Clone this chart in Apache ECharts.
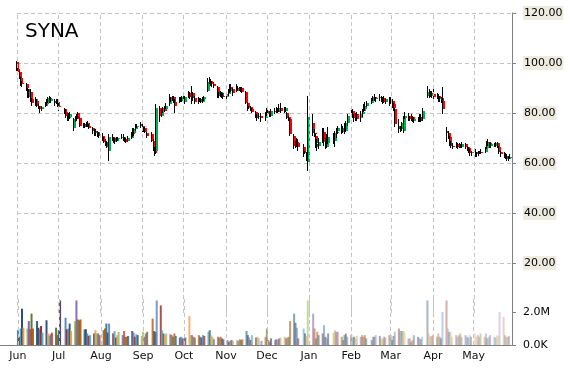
<!DOCTYPE html>
<html><head><meta charset="utf-8">
<script src="https://cdn.jsdelivr.net/npm/echarts@6/dist/echarts.min.js"></script>
<style>html,body{margin:0;padding:0;background:#fff}#c{width:570px;height:370px}</style>
</head><body><div id="c"></div>
<script>
const chartTitle = 'SYNA';
const monthNames = ['Jan','Feb','Mar','Apr','May','Jun','Jul','Aug','Sep','Oct','Nov','Dec'];
const monthStartDates = ['2015-06-01','2015-07-01','2015-08-01','2015-09-01','2015-10-01','2015-11-01','2015-12-01','2016-01-01','2016-02-01','2016-03-01','2016-04-01','2016-05-01'];
const holidays = ['2015-07-03','2015-09-07','2015-11-26','2015-12-25','2016-01-01','2016-01-18','2016-02-15','2016-03-25'];
const priceTicks = [0, 20, 40, 60, 80, 100, 120];
const volumeTickValues = [0, 2];
const volumeTickLabels = ['0.0K', '2.0M'];

// daily candles: [open, close, low, high]
const jun15 = [[100.5,97.5,97,101],[97.5,96.5,95.5,98.5],[96.5,94,93.5,97],[94,92,91,94.5],[92,91.5,90.5,93],[91.5,90,89,92],[89.5,86.5,86,90],[86.5,88.5,86,89.5],[88.5,85,84.5,89.5],[85.5,84,83,86],[84,85.5,83,86.5],[85,83,82.5,85.5],[83,82,81.5,83.5],[82,81.5,80,83],[81.5,82.5,81,83],[83,83.5,82.5,84.5],[83.5,84.5,83,85.5],[84.5,86,84,86.5],[86,85,84,87],[85,85.5,84,86.5],[85,84,83,85.5],[84,84.5,83.5,85.5]];
const jul15 = [[84.5,83,82.5,85.5],[83,82.5,81,84],[81.5,80.5,79.5,82],[80.5,79,78,81.5],[79,77.5,77,80],[78,78.5,77,80],[78.5,79.5,77.5,80.5],[74,77.5,73,78],[77.5,78.5,76.5,79],[78.5,77.5,77,79.5],[80,78,77.5,80.5],[78,75,74.5,78.5],[75.5,75,74,76],[75,74.5,74,76],[75,76,74.5,76.5],[76,75,74.5,77],[75,74,73.5,75.5],[74,73,71.5,74.5],[73,72,71,73.5],[72,72.5,71,73.5],[72.5,71.5,70.5,73],[71.5,71,70,72.5]];
const aug15 = [[71,69.5,69,72],[69.5,68.5,68,70.5],[68.5,67.5,67,69.5],[67.5,66.5,66,69],[65,70.5,61,71.5],[70.5,70,69,71.5],[70,68.5,68,70.5],[68.5,69,67.5,70],[69,69.5,68.5,70.5],[69.5,70,69,70.5],[70,70.5,69.5,71.5],[70.5,69.5,69,71.5],[69.5,69,68.5,70.5],[69,68.5,68,70],[69,70,68.5,71],[70,72,69.5,72.5],[72.5,71.5,70.5,74],[72,73.5,71,74],[73.5,74.5,73,75.5],[74.5,75,74,75.5],[75.5,75,74,76.5]];
const sep15 = [[75,73,72.5,75.5],[73,74,72.5,74.5],[74,72.5,72,74.5],[72,71,70,72.5],[71.5,69,68.5,72.5],[69,66,65,69.5],[66,64,63,66.5],[65,82,63.5,83.5],[82,79,76.5,83],[79,80.5,78.5,81.5],[80.5,82,80,82.5],[82.5,81,80.5,83],[81.5,83,81.5,84],[83.5,86.5,83,87.5],[86,85.5,84.5,86.5],[85.5,86,85,87],[86.5,84.5,84,87],[84.5,83,80,85.5],[84.5,86,84,86.5],[86,85,84.5,86.5],[85,86.5,84.5,87]];
const oct15 = [[86.5,85,84,87.5],[84.5,86.5,83.5,87],[87,88,86,89],[88,86.5,85.5,88.5],[87,88,83.5,91],[88,86,85,88.5],[86,84.5,83.5,87],[84.5,85.5,83.5,86.5],[85.5,85,84.5,86],[85,84.5,84,86],[84.5,85.5,84,86.5],[85.5,86.5,85,87],[89,92.5,88.5,94],[92.5,93,91.5,94.5],[93,92,91,93.5],[92,91.5,90.5,93],[91.5,91,90,92.5],[90.5,88,86,91],[88,87,86,88.5],[87,88.5,86.5,89],[88,87,86,88.5],[87,86.5,85.5,88]];
const nov15 = [[86.5,87.5,85.5,88.5],[87.5,88.5,87,89.5],[89,90.5,88,91.5],[90.5,89.5,88.5,91.5],[89.5,88,87,90],[89,90,88.5,91.5],[90,89.5,89,91],[89.5,90,89,90.5],[90,89,88.5,90.5],[90,88.5,88,90.5],[88.5,84,83.5,89],[84,82,81,84.5],[82,82.5,81.5,83],[82.5,81.5,81,83],[81.5,80.5,80,82],[80.5,79,78,81],[79,78,77,79.5],[78.5,79,77.5,80],[79,78,76.5,80],[78,79.5,77,80.5]];
const dec15 = [[79.5,81,79,82],[81,80,79,82.5],[80,79,78.5,81],[79,81,78.5,81.5],[81,80.5,79.5,82],[80.5,81.5,80,82.5],[81.5,80.5,80,82],[81,82,80.5,83.5],[82,81,80,84],[81.5,81,80,82.5],[81,82,80.5,82.5],[80,78,77.5,80.5],[78.5,77.5,77,79],[77.5,71.5,71,78],[71,67,65.5,71.5],[67,68,66,69],[68.5,67.5,66.5,70],[68,66.5,65,69.5],[66.5,64,62.5,67.5],[64,64.5,63.5,65],[64.5,62,61,64.5],[60.5,78.5,57,87]];
const jan16 = [[76,72,71,79.5],[72,71.5,70.5,73.5],[71,68,66,72],[67.5,66.5,65,69.5],[67,68.5,65.5,70],[68.5,72.5,68,74],[72.5,69,67,74],[69,66.5,65.5,70],[66.5,70,66,71.5],[68,70.5,67.5,74.5],[71,70,67.5,72],[69,72,66.5,73],[72,72.5,70,74],[73,74,71.5,75],[74,72.5,71.5,75.5],[72.5,74,72,75],[74,73,71.5,76],[73,76,72.5,77],[76,79,75,79.5]];
const feb16 = [[79,81,78.5,82.5],[81,79,78,81.5],[79,78,76.5,79.5],[78,79.5,77,80],[79.5,77.5,77,80.5],[78,79.5,76.5,81],[79.5,80.5,78.5,81.5],[81,82.5,80.5,83.5],[81.5,83,81,84.5],[83,84,82.5,85],[84,85.5,83.5,86],[85.5,86.5,85,87],[86.5,85.5,85,87.5],[85.5,86,84.5,86.5],[86,86.5,85,87.5],[86.5,85,84.5,87],[85,86,83.5,86.5],[86,84.5,84,87],[84.5,85.5,83.5,86],[85.5,84,83,86.5]];
const mar16 = [[84,85.5,83.5,86.5],[85,83.5,82,85.5],[83.5,82,81,84],[81.5,75.5,74.5,82],[75,73.5,72,77.5],[73.5,74,72.5,75],[74,76,73,76.5],[73,78,72,79],[78,79,77.5,80.5],[79,78,77,80],[78,77.5,77,79],[77.5,78.5,77,79.5],[78.5,77,76.5,79],[77,77.5,76,78.5],[77.5,77,76.5,78.5],[77,78.5,76.5,79.5],[78.5,77,76.5,79.5],[77.5,81,77,82],[87,88.5,86,91],[88.5,87,86,89.5],[87,88,86.5,89],[88,87.5,86,89]];
const apr16 = [[87.5,86.5,85.5,89.5],[86.5,87,85.5,88],[87,85.5,84.5,87.5],[85.5,86,84.5,87],[86,85,84,86.5],[85,81.5,79.5,90.5],[73,72,68.5,74.5],[72,70.5,69.5,73],[70.5,68,67,71],[68,67,66,69],[67,66.5,65.5,68],[66.5,67.5,66,68.5],[67.5,66.5,65.5,68],[66.5,67,66,68],[67,66.5,66,67.5],[66.5,67.5,66,68.5],[67.5,66.5,65.5,68],[66.5,66,65,67],[66,65,64,66.5],[65,64,63,65.5],[64,64.5,63,65]];
const may16 = [[64.5,64,62.5,65.5],[64,63.5,62.5,64.5],[63.5,64,63,65],[64,64.5,63.5,65],[64.5,64,63.5,65.5],[64.5,66,64,66.5],[66,68.5,65.5,69],[68.5,68,67,69.5],[68,67,66,68.5],[67,67.5,66,68.5],[67.5,67,66.5,68],[67,68,66.5,68.5],[68,66.5,66,68.5],[66.5,64.5,63.5,67],[64.5,63.5,62.5,65],[63.5,63,62,64.5],[63,62.5,61.5,64],[62.5,61.5,61,63.5],[61.5,62,61,63],[62,62.5,61.5,63.5]];

// daily volume in millions of shares
const volJun15 = [0.9,0.5,1.0,2.2,1.05,1.0,1.45,0.95,1.9,1.0,1.45,1.05,0.95,1.15,0.75,1.5,0.7,0.55,0.65,0.75,1.05,0.6];
const volJul15 = [0.9,2.7,1.65,0.95,1.0,1.3,0.85,1.45,2.7,1.55,1.5,1.55,0.95,0.95,0.7,0.55,0.6,0.7,0.9,0.7,0.7,0.6];
const volAug15 = [0.9,1.0,1.3,0.75,1.3,0.7,0.85,0.45,0.6,0.8,0.6,0.85,0.5,0.5,0.55,0.85,0.75,0.5,0.65,0.6,0.55];
const volSep15 = [0.8,0.5,0.7,0.8,1.6,0.85,0.8,2.7,2.4,0.9,0.7,0.6,0.7,0.65,0.6,0.5,0.7,0.55,0.45,0.5,0.4];
const volOct15 = [0.4,0.45,1.75,0.6,0.6,0.5,0.45,0.6,0.5,0.45,0.6,0.55,0.8,0.9,0.6,0.5,0.35,0.5,0.45,0.5,0.4,0.35];
const volNov15 = [0.3,0.2,0.25,0.3,0.25,0.3,0.25,0.35,0.3,0.35,0.85,0.6,0.45,0.3,0.6,0.45,0.5,0.4,0.25,0.5];
const volDec15 = [1.0,0.3,0.2,0.4,0.3,0.35,0.3,0.4,0.45,0.5,0.4,0.45,0.5,1.45,1.9,1.35,1.05,0.4,1.0,0.7,0.55,2.7];
const volJan16 = [1.9,1.0,0.4,0.8,0.6,0.7,1.2,0.5,0.4,0.7,0.75,0.9,0.8,0.8,0.5,0.3,0.6,0.7,0.5];
const volFeb16 = [0.6,0.45,0.5,0.4,0.55,0.5,0.6,0.5,0.6,0.4,0.3,0.5,0.5,0.6,0.55,0.4,0.35,0.5,0.45,0.6];
const volMar16 = [0.6,0.3,0.55,0.8,1.0,0.85,0.85,0.85,0.8,0.4,0.4,0.2,0.3,0.6,0.5,0.45,0.35,0.5,2.7,0.7,0.5,0.55];
const volApr16 = [0.6,0.5,0.7,0.5,0.4,2.0,2.7,1.0,0.8,0.8,0.5,0.6,0.5,0.6,0.7,0.5,0.6,0.5,0.45,0.6,0.5];
const volMay16 = [0.7,0.5,0.6,0.5,0.7,0.5,0.7,0.4,0.5,0.6,0.5,0.45,0.6,0.55,2.0,1.7,0.6,0.5,0.5,0.55];

const candles = [].concat(jun15,jul15,aug15,sep15,oct15,nov15,dec15,jan16,feb16,mar16,apr16,may16);
const volumes = [].concat(volJun15,volJul15,volAug15,volSep15,volOct15,volNov15,volDec15,volJan16,volFeb16,volMar16,volApr16,volMay16);

function pad(n){return n<10?'0'+n:''+n;}
function parseDay(s){const p=s.split('-');return new Date(+p[0], +p[1]-1, +p[2]).getTime();}
// trading days (weekdays minus market holidays)
const tradingDays = [];
for (let d = new Date(2015,5,1); d <= new Date(2016,4,27); d.setDate(d.getDate()+1)) {
  const wd = d.getDay();
  if (wd === 0 || wd === 6) continue;
  const s = d.getFullYear()+'-'+pad(d.getMonth()+1)+'-'+pad(d.getDate());
  if (holidays.indexOf(s) >= 0) continue;
  tradingDays.push(new Date(d.getFullYear(), d.getMonth(), d.getDate()).getTime());
}
if (tradingDays.length !== candles.length || candles.length !== volumes.length) {
  console.error('length mismatch', tradingDays.length, candles.length, volumes.length);
}
const monthStarts = monthStartDates.map(parseDay);

const DAY = 86400000;
const pxPerDay = 1.3657;
const t0 = monthStarts[0];
const tEnd = t0 + 362.4 * DAY;
const tVol0 = t0 - (17 / pxPerDay) * DAY;

const candleData = tradingDays.map((t,i) => [t, candles[i][0], candles[i][1], candles[i][2], candles[i][3]]);
const palette = ['#4F81BD','#8B2A2A','#4BACC6','#2C4D75','#F79646','#9BBB59','#8064A2','#C0504D','#5F7530','#B65708','#276A7C','#4D3B62'];
const volData = tradingDays.map((t,i) => ({
  value: [t, volumes[i]],
  itemStyle: { color: palette[i % palette.length], opacity: 1 - 0.72 * i / (tradingDays.length - 1) }
}));

const gridColor = '#c4c4c4';
const axisColor = '#808080';
const font = 'DejaVu Sans';
const dashStyle = { color: gridColor, type: [4,3], width: 1 };
function monthLines() {
  return { silent: true, symbol: ['none','none'], label: { show: false }, animation: false,
    lineStyle: dashStyle, emphasis: { disabled: true }, data: monthStarts.map(t => ({ xAxis: t })) };
}

const chart = echarts.init(document.getElementById('c'), null, {renderer:'canvas'});
chart.setOption({
  animation: false,
  backgroundColor: '#fff',
  title: { text: chartTitle, left: 20, top: 17, textStyle: { fontSize: 20, fontWeight: 'normal', color: '#000', fontFamily: font } },
  grid: [
    { left: 17, right: 58, top: 13, height: 300 },
    { left: 0, right: 58, top: 298.8, bottom: 25 }
  ],
  xAxis: [
    { type: 'time', gridIndex: 0, min: t0, max: tEnd,
      axisLine: {show:false}, axisTick: {show:false}, axisLabel: {show:false}, splitLine: { show: false } },
    { type: 'time', gridIndex: 1, min: tVol0, max: tEnd, splitNumber: 12, minInterval: 28*DAY, maxInterval: 31*DAY,
      axisLine: { show: true, lineStyle: { color: axisColor, width: 1 } }, axisTick: {show:false},
      axisLabel: { show: true, margin: 6, color: '#111', fontSize: 11, fontFamily: font, showMinLabel: false, showMaxLabel: false,
        formatter: v => monthNames[new Date(v).getMonth()] },
      splitLine: { show: false } }
  ],
  yAxis: [
    { type: 'value', gridIndex: 0, position: 'right', min: priceTicks[0], max: priceTicks[priceTicks.length-1], interval: 20,
      axisLine: { show: true, lineStyle: { color: axisColor } },
      axisTick: { show: true, length: 4, lineStyle: { color: axisColor } },
      axisLabel: { show: true, showMinLabel: false, margin: 11, color: '#000', fontSize: 11, fontFamily: font,
        backgroundColor: '#EEECE1', padding: [2,1,1,1], formatter: v => v === 0 ? '' : v.toFixed(2) },
      splitLine: { show: true, showMinLine: false, lineStyle: dashStyle } },
    { type: 'value', gridIndex: 1, position: 'right', min: 0, max: 2.8,
      axisLine: { show: true, lineStyle: { color: axisColor } },
      axisTick: { show: true, length: 4, customValues: volumeTickValues, lineStyle: { color: axisColor } },
      axisLabel: { show: true, margin: 11, color: '#000', fontSize: 11, fontFamily: font, customValues: volumeTickValues,
        formatter: v => { const k = volumeTickValues.indexOf(v); return k >= 0 ? volumeTickLabels[k] : ''; } },
      splitLine: { show: false } }
  ],
  series: [
    { type: 'line', xAxisIndex: 0, yAxisIndex: 0, data: [], z: 1, markLine: monthLines() },
    { type: 'line', xAxisIndex: 1, yAxisIndex: 1, data: [], z: 1, markLine: monthLines() },
    { type: 'bar', xAxisIndex: 1, yAxisIndex: 1, barWidth: 2, data: volData, z: 3 },
    { type: 'custom', xAxisIndex: 0, yAxisIndex: 0, data: candleData, encode: { x: 0, y: [1,2,3,4] }, z: 3,
      renderItem: (params, api) => {
        const t = api.value(0);
        const op = api.value(1), cl = api.value(2);
        const o = api.coord([t, op]), c = api.coord([t, cl]);
        const l = api.coord([t, api.value(3)]), h = api.coord([t, api.value(4)]);
        const cx = Math.round(o[0]);
        const top = Math.round(Math.min(o[1], c[1])), bot = Math.round(Math.max(o[1], c[1]));
        return { type: 'group', children: [
          { type: 'line', shape: { x1: cx - 0.5, y1: Math.round(h[1]), x2: cx - 0.5, y2: Math.round(l[1]) }, style: { stroke: '#000', lineWidth: 1 } },
          { type: 'rect', shape: { x: cx, y: top, width: 2, height: Math.max(1, bot - top) }, style: { fill: cl >= op ? '#00b050' : '#ff0000' } }
        ]};
      } }
  ]
});
</script></body></html>
